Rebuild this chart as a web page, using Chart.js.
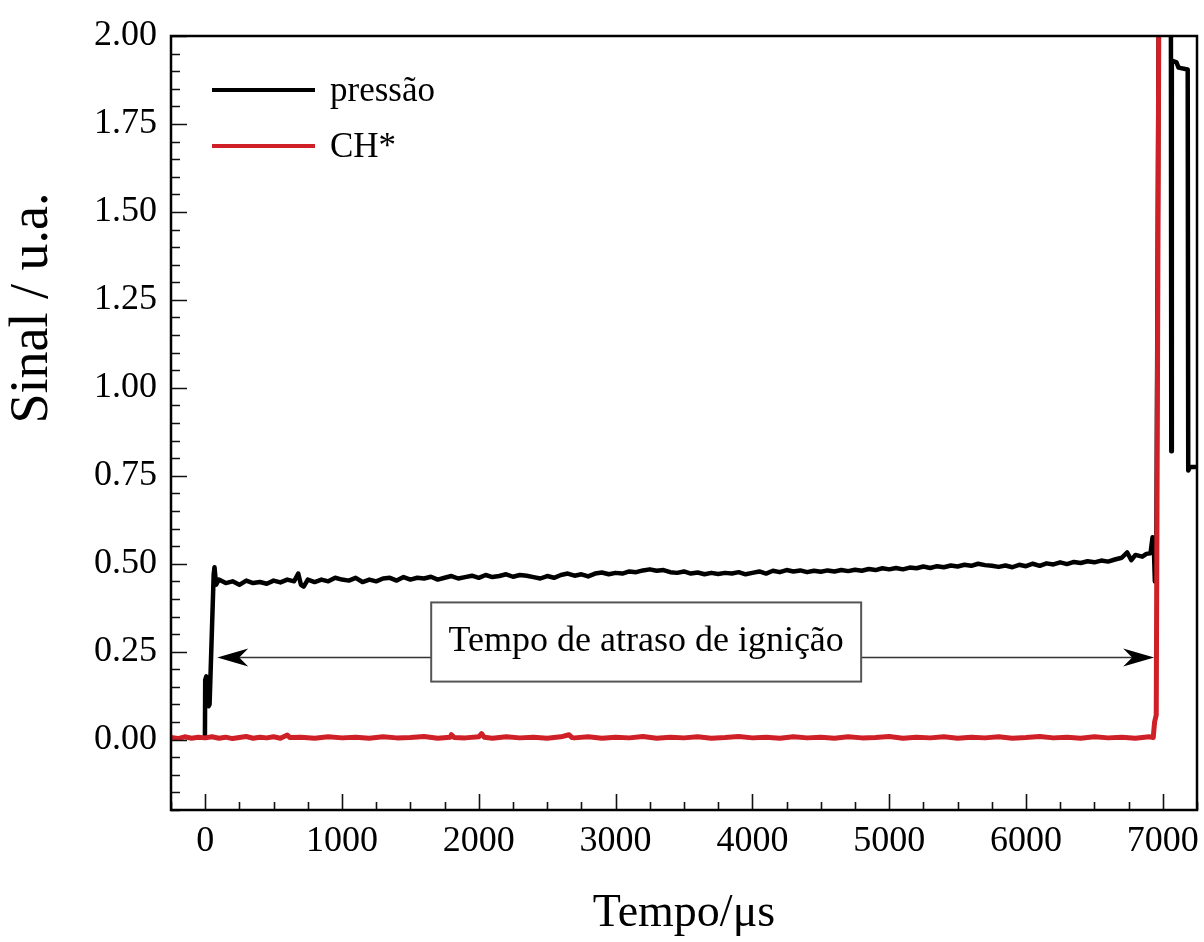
<!DOCTYPE html>
<html>
<head>
<meta charset="utf-8">
<title>Sinal de pressão e CH*</title>
<script src="https://cdn.jsdelivr.net/npm/chart.js@4.4.0/dist/chart.umd.min.js"></script>
<style>
  html, body { margin: 0; padding: 0; background: #fff; }
  #wrap { width: 1204px; height: 942px; }
</style>
</head>
<body>
<div id="wrap"><canvas id="signal-chart"></canvas></div>
<script>
const SERIF = "'Liberation Serif', 'Times New Roman', serif";

// pressure signal, [tempo (µs), sinal (u.a.)]
const pressure = [
  [-2, 0.006], [0, 0.17], [8, 0.18], [15, 0.11], [25, 0.095], [32, 0.10],
  [45, 0.26], [62, 0.47], [68, 0.49], [80, 0.44], [100, 0.455], [150, 0.445], [200, 0.45],
  [250, 0.44], [300, 0.452], [350, 0.445], [400, 0.448], [450, 0.443], [500, 0.452],
  [550, 0.447], [600, 0.455], [650, 0.45], [680, 0.472], [700, 0.44], [720, 0.435],
  [750, 0.455], [800, 0.448], [850, 0.455], [900, 0.45], [950, 0.46], [1000, 0.455],
  [1050, 0.452], [1100, 0.46], [1150, 0.448], [1200, 0.455], [1250, 0.45], [1300, 0.458],
  [1350, 0.46], [1400, 0.452], [1450, 0.462], [1500, 0.455], [1550, 0.46], [1600, 0.458],
  [1650, 0.463], [1700, 0.455], [1750, 0.46], [1800, 0.465], [1850, 0.458], [1900, 0.462],
  [1950, 0.466], [2000, 0.46], [2050, 0.468], [2100, 0.462], [2150, 0.465], [2200, 0.47],
  [2250, 0.463], [2300, 0.468], [2350, 0.466], [2400, 0.462], [2450, 0.458], [2500, 0.465],
  [2550, 0.46], [2600, 0.468], [2650, 0.472], [2700, 0.466], [2750, 0.47], [2800, 0.464],
  [2850, 0.472], [2900, 0.475], [2950, 0.47], [3000, 0.474], [3050, 0.472], [3100, 0.478],
  [3150, 0.476], [3200, 0.481], [3250, 0.484], [3300, 0.48], [3350, 0.482], [3400, 0.476],
  [3450, 0.474], [3500, 0.478], [3550, 0.472], [3600, 0.475], [3650, 0.47], [3700, 0.474],
  [3750, 0.471], [3800, 0.474], [3850, 0.472], [3900, 0.476], [3950, 0.47], [4000, 0.474],
  [4050, 0.478], [4100, 0.472], [4150, 0.48], [4200, 0.476], [4250, 0.482], [4300, 0.478],
  [4350, 0.481], [4400, 0.476], [4450, 0.48], [4500, 0.477], [4550, 0.481], [4600, 0.478],
  [4650, 0.482], [4700, 0.479], [4750, 0.483], [4800, 0.48], [4850, 0.485], [4900, 0.482],
  [4950, 0.487], [5000, 0.484], [5050, 0.488], [5100, 0.484], [5150, 0.489], [5200, 0.487],
  [5250, 0.492], [5300, 0.488], [5350, 0.493], [5400, 0.49], [5450, 0.495], [5500, 0.492],
  [5550, 0.497], [5600, 0.494], [5650, 0.5], [5700, 0.496], [5750, 0.494], [5800, 0.491],
  [5850, 0.495], [5900, 0.49], [5950, 0.497], [6000, 0.493], [6050, 0.5], [6100, 0.494],
  [6150, 0.501], [6200, 0.498], [6250, 0.504], [6300, 0.499], [6350, 0.505], [6400, 0.502],
  [6450, 0.507], [6500, 0.504], [6550, 0.509], [6600, 0.506], [6650, 0.512], [6700, 0.517],
  [6740, 0.532], [6770, 0.51], [6800, 0.525], [6850, 0.52], [6880, 0.528], [6910, 0.53],
  [6925, 0.575], [6935, 0.54], [6942, 0.45], [6952, 0.46], [6976, 2.6], [7058, 2.6],
  [7062, 0.82], [7066, 1.93], [7100, 1.925], [7115, 1.91], [7182, 1.905], [7186, 0.765],
  [7198, 0.775], [7250, 0.775]
];

// CH* emission, [tempo (µs), sinal (u.a.)]
const chStar = [
  [-250, 0.006], [-200, 0.003], [-150, 0.008], [-100, 0.004], [-50, 0.007], [0, 0.005],
  [50, 0.008], [100, 0.004], [150, 0.007], [200, 0.003], [250, 0.006], [300, 0.009],
  [350, 0.004], [400, 0.007], [450, 0.005], [500, 0.008], [550, 0.004], [600, 0.013],
  [620, 0.006], [700, 0.007], [800, 0.004], [900, 0.008], [1000, 0.005], [1100, 0.007],
  [1200, 0.004], [1300, 0.008], [1400, 0.005], [1500, 0.006], [1600, 0.009], [1700, 0.004],
  [1790, 0.007], [1800, 0.014], [1820, 0.006], [1900, 0.005], [2000, 0.008], [2020, 0.017],
  [2040, 0.007], [2100, 0.004], [2200, 0.008], [2300, 0.005], [2400, 0.007], [2500, 0.004],
  [2600, 0.008], [2660, 0.014], [2680, 0.006], [2700, 0.005], [2800, 0.008], [2900, 0.004],
  [3000, 0.007], [3100, 0.005], [3200, 0.009], [3300, 0.004], [3400, 0.007], [3500, 0.005],
  [3600, 0.008], [3700, 0.004], [3800, 0.006], [3900, 0.009], [4000, 0.005], [4100, 0.007],
  [4200, 0.004], [4300, 0.008], [4400, 0.005], [4500, 0.007], [4600, 0.004], [4700, 0.008],
  [4800, 0.005], [4900, 0.006], [5000, 0.009], [5100, 0.004], [5200, 0.007], [5300, 0.005],
  [5400, 0.008], [5500, 0.004], [5600, 0.007], [5700, 0.005], [5800, 0.008], [5900, 0.004],
  [6000, 0.006], [6100, 0.009], [6200, 0.005], [6300, 0.007], [6400, 0.004], [6500, 0.008],
  [6600, 0.005], [6700, 0.007], [6800, 0.004], [6900, 0.008], [6930, 0.006], [6940, 0.05],
  [6952, 0.07], [6976, 2.6], [7250, 2.6]
];

const xTicks = [0, 1000, 2000, 3000, 4000, 5000, 6000, 7000];
const xTickLabels = ['0', '1000', '2000', '3000', '4000', '5000', '6000', '7000'];
const yTicks = [0, 0.25, 0.5, 0.75, 1, 1.25, 1.5, 1.75, 2];
const yTickLabels = ['0.00', '0.25', '0.50', '0.75', '1.00', '1.25', '1.50', '1.75', '2.00'];

// ignition delay marker: arrow from the pressure jump to the CH* rise
const delayLabel = 'Tempo de atraso de ignição';
const delayArrow = { from: 88, to: 6937, y: 0.234 };
const delayBox = { x0: 1652, x1: 4795, y0: 0.165, y1: 0.39 };

const X_MINOR = 250;
const Y_MINOR = 0.05;

// box frame plus inward major/minor ticks on the left and bottom axes
const frameTicks = {
  id: 'frameTicks',
  afterDraw(chart) {
    const { ctx, chartArea: a, scales: { x, y } } = chart;
    ctx.save();
    ctx.strokeStyle = '#111';
    ctx.lineWidth = 1.6;
    ctx.beginPath();
    for (let k = Math.ceil(x.min / X_MINOR); k * X_MINOR <= x.max; k++) {
      const px = Math.round(x.getPixelForValue(k * X_MINOR)) + 0.5;
      const len = k % 4 === 0 ? 16 : 8;
      ctx.moveTo(px, a.bottom);
      ctx.lineTo(px, a.bottom - len);
    }
    for (let k = Math.ceil(y.min / Y_MINOR - 1e-6); k * Y_MINOR <= y.max + 1e-6; k++) {
      const py = Math.round(y.getPixelForValue(k * Y_MINOR)) + 0.5;
      const len = k % 5 === 0 ? 16 : 9;
      ctx.moveTo(a.left, py);
      ctx.lineTo(a.left + len, py);
    }
    ctx.stroke();
    ctx.lineWidth = 2.5;
    ctx.strokeStyle = '#000';
    ctx.strokeRect(a.left, a.top, a.right - a.left, a.bottom - a.top);

    // y axis title, drawn by hand so it can sit above the axis centre
    ctx.fillStyle = '#000';
    ctx.font = '54px ' + SERIF;
    ctx.textAlign = 'center';
    ctx.textBaseline = 'middle';
    ctx.translate(33, 308);
    ctx.rotate(-Math.PI / 2);
    ctx.fillText('Sinal / u.a.', 0, 0);
    ctx.restore();
  }
};

function arrowHead(ctx, tipX, tipY, dir) {
  ctx.beginPath();
  ctx.moveTo(tipX, tipY);
  ctx.lineTo(tipX + dir * 31, tipY - 9);
  ctx.lineTo(tipX + dir * 22, tipY);
  ctx.lineTo(tipX + dir * 31, tipY + 9);
  ctx.closePath();
  ctx.fill();
}

const delayMarker = {
  id: 'delayMarker',
  afterDatasetsDraw(chart) {
    const { ctx, scales: { x, y } } = chart;
    const x0 = x.getPixelForValue(delayArrow.from);
    const x1 = x.getPixelForValue(delayArrow.to);
    const ay = Math.round(y.getPixelForValue(delayArrow.y)) + 0.5;
    ctx.save();
    ctx.strokeStyle = '#333';
    ctx.lineWidth = 1.5;
    ctx.beginPath();
    ctx.moveTo(x0 + 20, ay);
    ctx.lineTo(x1 - 20, ay);
    ctx.stroke();
    ctx.fillStyle = '#000';
    arrowHead(ctx, x0, ay, 1);
    arrowHead(ctx, x1, ay, -1);

    const bx0 = x.getPixelForValue(delayBox.x0);
    const bx1 = x.getPixelForValue(delayBox.x1);
    const by0 = y.getPixelForValue(delayBox.y1);
    const by1 = y.getPixelForValue(delayBox.y0);
    ctx.fillStyle = '#fff';
    ctx.fillRect(bx0, by0, bx1 - bx0, by1 - by0);
    ctx.strokeStyle = '#555';
    ctx.lineWidth = 2;
    ctx.strokeRect(bx0, by0, bx1 - bx0, by1 - by0);
    ctx.fillStyle = '#000';
    ctx.font = '36px ' + SERIF;
    ctx.textAlign = 'center';
    ctx.textBaseline = 'middle';
    ctx.fillText(delayLabel, (bx0 + bx1) / 2, (by0 + by1) / 2);
    ctx.restore();
  }
};

// legend inside the plot, upper left
const insideLegend = {
  id: 'insideLegend',
  afterDraw(chart) {
    const { ctx, chartArea: a } = chart;
    ctx.save();
    ctx.font = '35px ' + SERIF;
    ctx.textBaseline = 'alphabetic';
    ctx.textAlign = 'left';
    chart.data.datasets.forEach((ds, i) => {
      const ly = a.top + 54 + i * 56;
      ctx.strokeStyle = ds.borderColor;
      ctx.lineWidth = 4;
      ctx.beginPath();
      ctx.moveTo(a.left + 41, ly);
      ctx.lineTo(a.left + 144, ly);
      ctx.stroke();
      ctx.fillStyle = '#000';
      ctx.fillText(ds.label, a.left + 159, ly + 11);
    });
    ctx.restore();
  }
};

const tickFont = { family: SERIF, size: 36 };

new Chart(document.getElementById('signal-chart'), {
  type: 'line',
  data: {
    datasets: [
      {
        label: 'pressão',
        data: pressure.map(([t, v]) => ({ x: t, y: v })),
        borderColor: '#000',
        borderWidth: 4.5,
        order: 1,
      },
      {
        label: 'CH*',
        data: chStar.map(([t, v]) => ({ x: t, y: v })),
        borderColor: '#cf1f27',
        borderWidth: 5,
        order: 0,
      },
    ],
  },
  options: {
    responsive: true,
    maintainAspectRatio: false,
    animation: false,
    layout: { padding: { top: 36, right: 7, left: 0, bottom: 0 } },
    elements: { point: { radius: 0 }, line: { tension: 0, borderJoinStyle: 'round' } },
    plugins: { legend: { display: false }, tooltip: { enabled: false } },
    scales: {
      x: {
        type: 'linear',
        min: -250,
        max: 7250,
        grid: { display: false, drawTicks: false },
        border: { display: false },
        afterFit: s => {
          s.height = 132;
          s.paddingLeft = 0;
          s.paddingRight = 0;
        },
        afterBuildTicks: s => { s.ticks = xTicks.map(v => ({ value: v })); },
        ticks: {
          callback: (v, i) => xTickLabels[i],
          font: tickFont,
          color: '#000',
          padding: 10,
          maxRotation: 0,
          autoSkip: false,
        },
        title: {
          display: true,
          text: 'Tempo/μs',
          font: { family: SERIF, size: 46 },
          color: '#000',
          padding: 0,
        },
      },
      y: {
        min: -0.2,
        max: 2.0,
        grid: { display: false, drawTicks: false },
        border: { display: false },
        afterFit: s => {
          s.width = 171;
          s.paddingTop = 0;
          s.paddingBottom = 0;
        },
        afterBuildTicks: s => { s.ticks = yTicks.map(v => ({ value: v })); },
        ticks: {
          callback: (v, i) => yTickLabels[i],
          font: tickFont,
          color: '#000',
          padding: 14,
          autoSkip: false,
        },
      },
    },
  },
  plugins: [frameTicks, delayMarker, insideLegend],
});
</script>
</body>
</html>
